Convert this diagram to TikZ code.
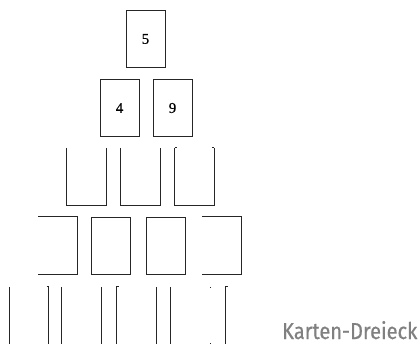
\documentclass[tikz,border=0pt]{standalone}
\usepackage{fontspec}
\setmainfont{Liberation Serif}
\newfontfamily\labelfont[FakeBold=0.6]{Fira Sans}
\newfontfamily\digitfont[FakeBold=0.4]{Liberation Serif}
\begin{document}
\begin{tikzpicture}[x=1pt,y=-1pt,
  card/.style={minimum width=39pt,minimum height=57pt,inner sep=0pt,
    font=\digitfont\fontsize{15}{15}\selectfont},
  edge/.style={draw=black!85,line width=0.9pt},
  tick/.style={draw=black!85,line width=0.9pt}]
\useasboundingbox (0,0) rectangle (420,344);
% row 1 and 2
\node[card,edge] (c5) at (145.5,39) {5};
\node[card,edge] (c4) at (119.5,108) {4};
\node[card,edge] (c9) at (172.5,108) {9};
% row 3 (open tops)
\node[card] (r3a) at (86.5,176.5) {};
\node[card] (r3b) at (140.5,176.5) {};
\node[card] (r3c) at (194.5,176.5) {};
\foreach \n in {r3a,r3b,r3c}
  \draw[edge] (\n.north west) -- (\n.south west) -- (\n.south east) -- (\n.north east);
\draw[tick] (r3c.north west) -- ++(2,0);
\draw[tick] (r3c.north east) -- ++(-2,0);
% row 4
\node[card] (r4a) at (58,245.5) {};
\node[card,edge] (r4b) at (110.5,245.5) {};
\node[card,edge] (r4c) at (165.5,245.5) {};
\node[card] (r4d) at (221.5,245.5) {};
\draw[edge] (r4a.north west) -- (r4a.north east) -- (r4a.south east) -- (r4a.south west);
\draw[edge] (r4d.north west) -- (r4d.north east) -- (r4d.south east) -- (r4d.south west);
% row 5 (cut by the lower edge)
\node[card] (r5a) at (29,315.5) {};
\node[card] (r5b) at (81.5,315.5) {};
\node[card] (r5c) at (136.5,315.5) {};
\node[card] (r5d) at (190.5,315.5) {};
\node[card] (r5e) at (245.5,315.5) {};
\draw[edge] (r5a.north west) -- (r5a.south west);
\draw[edge] ([xshift=-2pt]r5a.north east) -- (r5a.north east) -- (r5a.south east) -- ++(-2,0);
\draw[edge] (r5b.north west) -- (r5b.south west);
\draw[edge] (r5b.north east) -- (r5b.south east);
\draw[edge] ([xshift=2pt]r5c.north west) -- (r5c.north west) -- (r5c.south west) -- ++(2,0);
\draw[edge] (r5c.north east) -- (r5c.south east);
\draw[edge] (r5d.north west) -- (r5d.south west);
\draw[tick] (r5d.north east) -- ++(0,1.5);
\draw[tick] (r5d.south east) -- ++(0,-1.5);
\draw[edge] ([xshift=2pt]r5e.north west) -- (r5e.north west) -- (r5e.south west) -- ++(2,0);
% caption
\node[anchor=base west,inner sep=0pt,text=black!50,
  font=\labelfont\fontsize{23}{23}\selectfont] (cap) at (282,339)
  {\scalebox{0.87}[1]{Karten-Dreieck}};
\end{tikzpicture}
\end{document}
